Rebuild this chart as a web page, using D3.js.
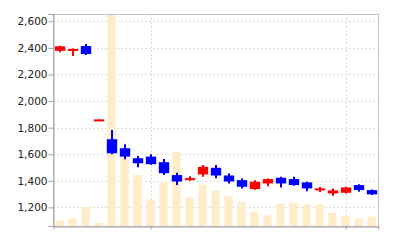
<!DOCTYPE html>
<html>
<head>
<meta charset="utf-8">
<script src="https://cdn.jsdelivr.net/npm/d3@7"></script>
<style>
  body { margin: 0; background: #fff; }
  svg { display: block; font-family: "DejaVu Sans", sans-serif; }
</style>
</head>
<body>
<svg id="chart"></svg>
<script>
const days = [
  "2024-03-18", "2024-03-19", "2024-03-20", "2024-03-21", "2024-03-22",
  "2024-03-25", "2024-03-26", "2024-03-27", "2024-03-28", "2024-03-29",
  "2024-04-01", "2024-04-02", "2024-04-03", "2024-04-04", "2024-04-05",
  "2024-04-08", "2024-04-09", "2024-04-10", "2024-04-11", "2024-04-12",
  "2024-04-15", "2024-04-16", "2024-04-17", "2024-04-18", "2024-04-19"
];
const open  = [2378, 2380, 2414, 1855, 1713, 1645, 1570, 1582, 1540, 1443, 1416, 1448, 1498, 1440, 1405, 1338, 1380, 1423, 1413, 1388, 1328, 1305, 1310, 1368, 1330];
const high  = [2416, 2395, 2429, 1862, 1783, 1675, 1587, 1600, 1565, 1460, 1435, 1518, 1518, 1455, 1418, 1405, 1418, 1430, 1430, 1393, 1353, 1343, 1355, 1375, 1335];
const low   = [2368, 2339, 2346, 1855, 1600, 1562, 1502, 1520, 1444, 1368, 1400, 1430, 1420, 1380, 1343, 1333, 1360, 1350, 1363, 1322, 1315, 1288, 1305, 1318, 1293];
const close = [2412, 2392, 2354, 1862, 1607, 1582, 1532, 1525, 1457, 1395, 1420, 1505, 1440, 1395, 1355, 1393, 1413, 1380, 1368, 1343, 1343, 1328, 1350, 1330, 1298];
const volume = [50, 70, 180, 30, 2000, 670, 480, 250, 410, 700, 270, 390, 330, 280, 230, 135, 100, 210, 220, 205, 205, 125, 97, 70, 90];
const priceTicks = [1200, 1400, 1600, 1800, 2000, 2200, 2400, 2600];
const dayTicks = ["2024-03-27", "2024-04-17"];

function drawCandles(svgSelector, width, height) {
  const svg = d3.select(svgSelector)
    .attr("width", width)
    .attr("height", height)
    .attr("viewBox", `0 0 ${width} ${height}`);

  svg.selectAll("*").remove();

  const margin = { top: 14, right: 22, bottom: 14, left: 53 };
  const chartWidth = width - margin.left - margin.right;
  const chartHeight = height - margin.top - margin.bottom;

  const g = svg.append("g")
    .attr("transform", `translate(${margin.left},${margin.top})`);

  const x = d3.scaleBand()
    .domain(days)
    .range([0, chartWidth])
    .padding(0);

  const y = d3.scaleLinear()
    .domain([1060, 2655])
    .range([chartHeight, 0]);

  const yVol = d3.scaleLinear()
    .domain([0, 2000])
    .range([chartHeight, 0]);

  const up = "#ff0000";
  const down = "#0000ff";

  // grid
  g.append("g")
    .selectAll("line")
    .data(priceTicks)
    .join("line")
    .attr("x1", 0)
    .attr("x2", chartWidth)
    .attr("y1", d => Math.round(y(d)) + 0.5)
    .attr("y2", d => Math.round(y(d)) + 0.5)
    .attr("stroke", "#dcdcdc")
    .attr("stroke-dasharray", "2,2");

  g.append("g")
    .selectAll("line")
    .data(dayTicks)
    .join("line")
    .attr("x1", d => Math.round(x(d) + x.bandwidth() / 2) + 0.5)
    .attr("x2", d => Math.round(x(d) + x.bandwidth() / 2) + 0.5)
    .attr("y1", 0)
    .attr("y2", chartHeight)
    .attr("stroke", "#dcdcdc")
    .attr("stroke-dasharray", "2,2");

  // volume bars
  const volW = x.bandwidth() * 0.64;
  g.append("g")
    .selectAll("rect")
    .data(days)
    .join("rect")
    .attr("x", d => x(d) + (x.bandwidth() - volW) / 2)
    .attr("width", volW)
    .attr("y", (d, i) => yVol(volume[i]))
    .attr("height", (d, i) => chartHeight - yVol(volume[i]))
    .attr("fill", "#ffecc8");

  // candles
  const bodyW = x.bandwidth() * 0.8;
  days.forEach((d, i) => {
    const color = close[i] >= open[i] ? up : down;
    const cx = Math.round(x(d) + x.bandwidth() / 2);
    g.append("line")
      .attr("x1", cx)
      .attr("x2", cx)
      .attr("y1", y(high[i]))
      .attr("y2", y(low[i]))
      .attr("stroke", color)
      .attr("stroke-width", 2);

    const top = y(Math.max(open[i], close[i]));
    const h = Math.max(2, Math.abs(y(open[i]) - y(close[i])));
    g.append("rect")
      .attr("x", cx - bodyW / 2)
      .attr("y", top)
      .attr("width", bodyW)
      .attr("height", h)
      .attr("fill", color);
  });

  // frame
  g.append("rect")
    .attr("x", 0.5)
    .attr("y", 0.5)
    .attr("width", chartWidth)
    .attr("height", chartHeight)
    .attr("fill", "none")
    .attr("stroke", "#c4c4c4");

  // left axis
  const yAxis = g.append("g")
    .attr("transform", "translate(0.5,0)")
    .call(d3.axisLeft(y).tickValues(priceTicks).tickSize(5).tickPadding(1).tickFormat(d3.format(",")));
  yAxis.select(".domain").attr("stroke", "#a0a0a0");
  yAxis.selectAll(".tick line").attr("stroke", "#a0a0a0");
  yAxis.selectAll(".tick text")
    .attr("fill", "#222")
    .style("font-size", "10.5px")
    .style("font-family", "DejaVu Sans, sans-serif");

  // bottom axis
  const xAxis = g.append("g")
    .attr("transform", `translate(0.5,${chartHeight + 0.5})`)
    .call(d3.axisBottom(x).tickValues(dayTicks).tickSize(3).tickFormat(""));
  xAxis.select(".domain").attr("stroke", "#a0a0a0");
  xAxis.selectAll(".tick line").attr("stroke", "#a0a0a0");
}

drawCandles("#chart", 400, 240);
</script>
</body>
</html>
